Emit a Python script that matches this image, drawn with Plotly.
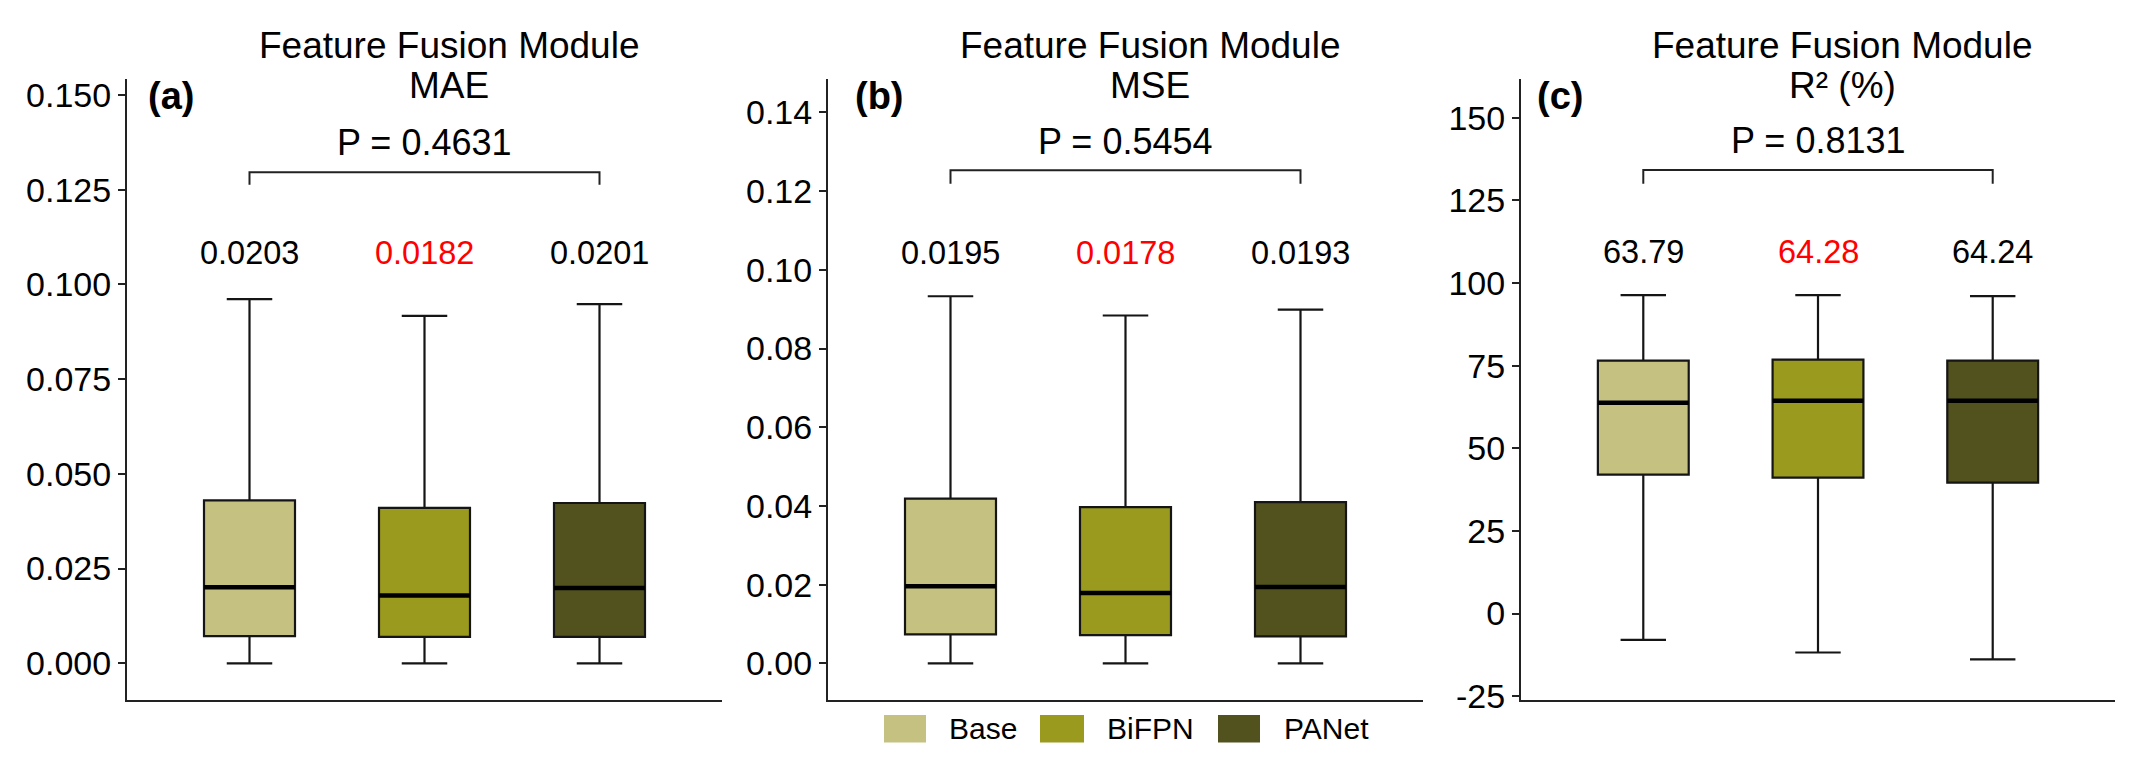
import plotly.graph_objects as go

# ---------------- data ----------------
categories = ["Base", "BiFPN", "PANet"]
colors = ["#C4C181", "#9A9A1F", "#52521F"]

mae_upper = [0.0961, 0.0917, 0.0948]
mae_q3 = [0.0430, 0.0410, 0.0423]
mae_median = [0.0201, 0.0179, 0.0199]
mae_q1 = [0.0072, 0.0070, 0.0070]
mae_lower = [0.0, 0.0, 0.0]
mae_labels = ["0.0203", "0.0182", "0.0201"]
mae_p = "P = 0.4631"
mae_ticks = [0.0, 0.025, 0.05, 0.075, 0.1, 0.125, 0.15]
mae_ticktext = ["0.000", "0.025", "0.050", "0.075", "0.100", "0.125", "0.150"]

mse_upper = [0.0933, 0.0884, 0.0899]
mse_q3 = [0.0419, 0.0397, 0.0410]
mse_median = [0.0196, 0.0179, 0.0194]
mse_q1 = [0.0074, 0.0072, 0.0069]
mse_lower = [0.0, 0.0, 0.0]
mse_labels = ["0.0195", "0.0178", "0.0193"]
mse_p = "P = 0.5454"
mse_ticks = [0.0, 0.02, 0.04, 0.06, 0.08, 0.10, 0.12, 0.14]
mse_ticktext = ["0.00", "0.02", "0.04", "0.06", "0.08", "0.10", "0.12", "0.14"]

r2_upper = [96.3, 96.3, 96.0]
r2_q3 = [76.5, 76.8, 76.5]
r2_median = [63.8, 64.4, 64.4]
r2_q1 = [42.0, 41.1, 39.6]
r2_lower = [-8.0, -11.8, -13.9]
r2_labels = ["63.79", "64.28", "64.24"]
r2_p = "P = 0.8131"
r2_ticks = [-25, 0, 25, 50, 75, 100, 125, 150]
r2_ticktext = ["-25", "0", "25", "50", "75", "100", "125", "150"]

best_index = 1  # highlighted (red) label

# ---------------- layout constants ----------------
W, H = 2129, 768
FONT = "Liberation Sans, Arial, Helvetica, sans-serif"
AX_COLOR = "#222222"

panels = [
    dict(tag="(a)", metric="MAE", px=(119, 714), yrange=[-0.0098, 0.1541],
         upper=mae_upper, q3=mae_q3, median=mae_median, q1=mae_q1, lower=mae_lower,
         labels=mae_labels, p=mae_p, ticks=mae_ticks, ticktext=mae_ticktext,
         label_y=0.1082, p_y=0.1374, br_top=0.1296, br_low=0.1263, tag_x=138),
    dict(tag="(b)", metric="MSE", px=(820, 1415), yrange=[-0.0094, 0.1484],
         upper=mse_upper, q3=mse_q3, median=mse_median, q1=mse_q1, lower=mse_lower,
         labels=mse_labels, p=mse_p, ticks=mse_ticks, ticktext=mse_ticktext,
         label_y=0.1042, p_y=0.1325, br_top=0.1253, br_low=0.1219, tag_x=845),
    dict(tag="(c)", metric="R² (%)", px=(1513, 2107), yrange=[-26.3, 161.6],
         upper=r2_upper, q3=r2_q3, median=r2_median, q1=r2_q1, lower=r2_lower,
         labels=r2_labels, p=r2_p, ticks=r2_ticks, ticktext=r2_ticktext,
         label_y=109.3, p_y=143.0, br_top=134.2, br_low=130.0, tag_x=1527),
]

y_dom = [1 - 706 / H, 1 - 70 / H]

fig = go.Figure()
annotations = []
shapes = []
layout_axes = {}

for i, pn in enumerate(panels):
    n = "" if i == 0 else str(i + 1)
    xa, ya = "x" + n, "y" + n
    for j, cat in enumerate(categories):
        fig.add_trace(go.Box(
            x=[cat], q1=[pn["q1"][j]], median=[pn["median"][j]], q3=[pn["q3"][j]],
            lowerfence=[pn["lower"][j]], upperfence=[pn["upper"][j]],
            fillcolor=colors[j], line=dict(color="#151515", width=2.2),
            width=0.52, whiskerwidth=0.5, boxpoints=False,
            xaxis=xa, yaxis=ya, showlegend=False, hoverinfo="skip", name=cat))
        # thick median bar
        m = pn["median"][j]
        fig.add_trace(go.Box(
            x=[cat], q1=[m], median=[m], q3=[m], lowerfence=[m], upperfence=[m],
            fillcolor="rgba(0,0,0,0)", line=dict(color="#000000", width=4.5),
            width=0.52, whiskerwidth=0, boxpoints=False,
            xaxis=xa, yaxis=ya, showlegend=False, hoverinfo="skip", name=cat))
        annotations.append(dict(
            x=j, y=pn["label_y"], xref=xa, yref=ya, text=pn["labels"][j],
            showarrow=False, xanchor="center", yanchor="middle",
            font=dict(family=FONT, size=32.5, color="#FF0000" if j == best_index else "#000000")))

    x0, x1 = pn["px"]
    layout_axes["xaxis" + n] = dict(
        domain=[x0 / W, x1 / W], range=[-0.7, 2.7], anchor=ya,
        type="category", categoryorder="array", categoryarray=categories,
        showline=True, linecolor=AX_COLOR, linewidth=2, ticks="",
        showticklabels=False, showgrid=False, zeroline=False, fixedrange=True)
    layout_axes["yaxis" + n] = dict(
        domain=y_dom, range=pn["yrange"], anchor=xa,
        showline=True, linecolor=AX_COLOR, linewidth=2,
        ticks="outside", ticklen=7, tickwidth=2, tickcolor=AX_COLOR,
        tickvals=pn["ticks"], ticktext=pn["ticktext"],
        tickfont=dict(family=FONT, size=34, color="#000000"),
        showgrid=False, zeroline=False, fixedrange=True)

    # significance bracket
    shapes.append(dict(
        type="path", xref=xa, yref=ya,
        path=f"M 0,{pn['br_low']} L 0,{pn['br_top']} L 2,{pn['br_top']} L 2,{pn['br_low']}",
        line=dict(color=AX_COLOR, width=2)))
    annotations.append(dict(
        x=1, y=pn["p_y"], xref=xa, yref=ya, text=pn["p"], showarrow=False,
        xanchor="center", yanchor="middle", font=dict(family=FONT, size=36, color="#000000")))

    # titles
    cx = ((x0 + x1) / 2 + 24) / W
    annotations.append(dict(
        x=cx, y=1 - 35 / H, xref="paper", yref="paper", text="Feature Fusion Module",
        showarrow=False, xanchor="center", yanchor="middle",
        font=dict(family=FONT, size=37, color="#000000")))
    annotations.append(dict(
        x=cx, y=1 - 76 / H, xref="paper", yref="paper", text=pn["metric"],
        showarrow=False, xanchor="center", yanchor="middle",
        font=dict(family=FONT, size=37, color="#000000")))
    annotations.append(dict(
        x=pn["tag_x"] / W, y=1 - 87 / H, xref="paper", yref="paper",
        text="<b>" + pn["tag"] + "</b>", showarrow=False, xanchor="left", yanchor="middle",
        font=dict(family=FONT, size=38, color="#000000")))

# legend (ggplot-style filled keys)
legend_keys = [(876, 918, 939), (1032, 1076, 1097), (1210, 1252, 1274)]
for j, cat in enumerate(categories):
    k0, k1, tx = legend_keys[j]
    shapes.append(dict(type="rect", xref="paper", yref="paper",
                       x0=k0 / W, x1=k1 / W, y0=1 - 749 / H, y1=1 - 721 / H,
                       fillcolor=colors[j], line=dict(width=0)))
    annotations.append(dict(
        x=tx / W, y=1 - 735 / H, xref="paper", yref="paper", text=cat,
        showarrow=False, xanchor="left", yanchor="middle",
        font=dict(family=FONT, size=30, color="#000000")))

fig.update_layout(
    width=W, height=H, margin=dict(l=0, r=0, t=0, b=0),
    paper_bgcolor="white", plot_bgcolor="white",
    boxmode="overlay", showlegend=False,
    annotations=annotations, shapes=shapes, **layout_axes)

fig.write_html("out.html")
